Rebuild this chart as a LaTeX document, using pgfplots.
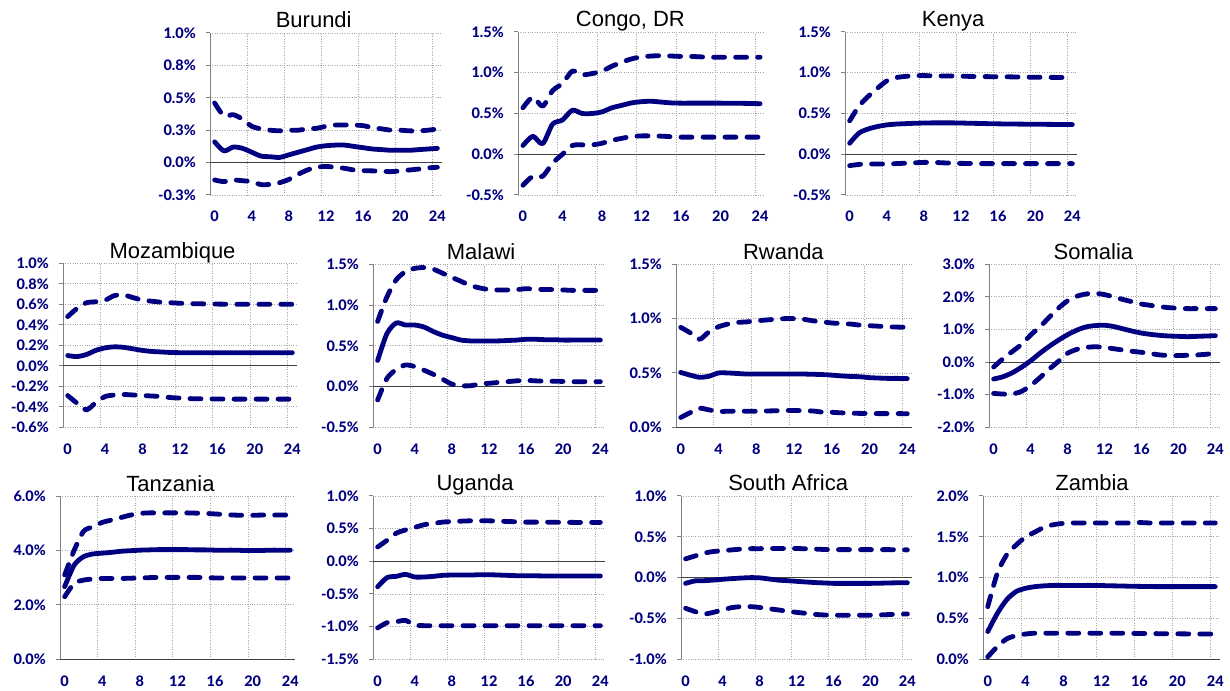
\documentclass[border=0pt]{standalone}
\usepackage{pgfplots}
\pgfplotsset{compat=1.18}
\usepackage{pgfplotstable}
\usepackage{fontspec}
\setmainfont{Liberation Sans}
\newfontfamily\titlefont{Liberation Sans}
\newfontfamily\tickfont{Lato}[BoldFont={Lato Heavy}]
\definecolor{navy}{RGB}{0,0,128}
\definecolor{axisgray}{RGB}{128,128,128}

% impulse responses: horizon, lower band, point estimate, upper band (percent)
\pgfplotstableread{
h lo mid hi
0 -0.134 0.16 0.46
1 -0.147 0.09 0.36
2 -0.134 0.12 0.37
3 -0.14 0.11 0.335
4 -0.147 0.08 0.28
5 -0.17 0.05 0.26
6 -0.168 0.045 0.25
7 -0.155 0.04 0.245
8 -0.13 0.06 0.25
9 -0.09 0.08 0.25
10 -0.057 0.10 0.26
11 -0.036 0.12 0.265
12 -0.03 0.13 0.28
13 -0.036 0.135 0.29
14 -0.044 0.135 0.29
15 -0.057 0.125 0.29
16 -0.062 0.115 0.285
17 -0.064 0.105 0.27
18 -0.067 0.10 0.26
19 -0.07 0.095 0.25
20 -0.064 0.095 0.25
21 -0.057 0.095 0.245
22 -0.05 0.10 0.245
23 -0.041 0.105 0.25
24 -0.036 0.11 0.26
}\burundi

\pgfplotstableread{
h lo mid hi
0 -0.38 0.107 0.57
1 -0.27 0.22 0.70
2 -0.27 0.13 0.59
3 -0.11 0.37 0.78
4 0.0 0.42 0.87
5 0.107 0.54 1.02
6 0.115 0.50 0.975
7 0.115 0.50 0.99
8 0.135 0.52 1.02
9 0.17 0.57 1.08
10 0.195 0.60 1.13
11 0.217 0.63 1.17
12 0.225 0.645 1.195
13 0.225 0.65 1.205
14 0.222 0.64 1.21
15 0.215 0.63 1.205
16 0.21 0.627 1.20
17 0.21 0.627 1.20
18 0.21 0.627 1.195
19 0.21 0.627 1.19
20 0.21 0.627 1.19
21 0.21 0.625 1.19
22 0.21 0.625 1.19
23 0.21 0.623 1.19
24 0.21 0.62 1.19
}\congo

\pgfplotstableread{
h lo mid hi
0 -0.14 0.135 0.41
1 -0.125 0.26 0.59
2 -0.12 0.31 0.71
3 -0.12 0.34 0.81
4 -0.12 0.36 0.90
5 -0.115 0.37 0.94
6 -0.11 0.375 0.955
7 -0.105 0.38 0.963
8 -0.10 0.383 0.965
9 -0.10 0.385 0.962
10 -0.105 0.385 0.96
11 -0.11 0.385 0.96
12 -0.112 0.383 0.958
13 -0.113 0.38 0.955
14 -0.115 0.378 0.953
15 -0.115 0.375 0.952
16 -0.115 0.373 0.95
17 -0.115 0.371 0.95
18 -0.115 0.37 0.948
19 -0.115 0.369 0.946
20 -0.115 0.368 0.945
21 -0.115 0.367 0.944
22 -0.115 0.366 0.943
23 -0.115 0.365 0.942
24 -0.115 0.364 0.94
}\kenya

\pgfplotstableread{
h lo mid hi
0 -0.29 0.10 0.48
1 -0.365 0.09 0.56
2 -0.43 0.11 0.615
3 -0.36 0.15 0.625
4 -0.30 0.175 0.64
5 -0.285 0.185 0.685
6 -0.28 0.18 0.69
7 -0.285 0.165 0.665
8 -0.29 0.15 0.64
9 -0.295 0.14 0.63
10 -0.30 0.135 0.62
11 -0.31 0.13 0.615
12 -0.315 0.128 0.61
13 -0.32 0.128 0.607
14 -0.322 0.128 0.605
15 -0.323 0.128 0.603
16 -0.324 0.128 0.602
17 -0.325 0.128 0.601
18 -0.325 0.128 0.60
19 -0.325 0.128 0.60
20 -0.325 0.128 0.60
21 -0.325 0.128 0.60
22 -0.325 0.128 0.60
23 -0.325 0.128 0.60
24 -0.325 0.128 0.60
}\mozambique

\pgfplotstableread{
h lo mid hi
0 -0.165 0.32 0.80
1 0.10 0.65 1.10
2 0.21 0.78 1.31
3 0.265 0.755 1.41
4 0.245 0.755 1.45
5 0.20 0.73 1.46
6 0.15 0.675 1.44
7 0.09 0.63 1.39
8 0.03 0.60 1.34
9 0.01 0.57 1.29
10 0.01 0.56 1.24
11 0.03 0.56 1.21
12 0.04 0.56 1.19
13 0.05 0.56 1.185
14 0.06 0.565 1.185
15 0.07 0.57 1.19
16 0.075 0.58 1.20
17 0.07 0.58 1.195
18 0.065 0.575 1.19
19 0.065 0.575 1.19
20 0.063 0.57 1.185
21 0.06 0.57 1.18
22 0.06 0.57 1.18
23 0.06 0.57 1.18
24 0.06 0.57 1.18
}\malawi

\pgfplotstableread{
h lo mid hi
0 0.09 0.505 0.92
1 0.135 0.48 0.87
2 0.175 0.46 0.81
3 0.16 0.47 0.88
4 0.145 0.50 0.925
5 0.148 0.50 0.95
6 0.148 0.495 0.965
7 0.148 0.49 0.97
8 0.148 0.49 0.98
9 0.15 0.49 0.987
10 0.152 0.49 0.994
11 0.155 0.49 1.0
12 0.155 0.49 1.0
13 0.153 0.49 0.994
14 0.15 0.488 0.98
15 0.14 0.485 0.97
16 0.138 0.48 0.96
17 0.133 0.473 0.955
18 0.13 0.468 0.95
19 0.128 0.465 0.94
20 0.127 0.457 0.935
21 0.126 0.453 0.93
22 0.126 0.45 0.925
23 0.126 0.45 0.922
24 0.125 0.448 0.92
}\rwanda

\pgfplotstableread{
h lo mid hi
0 -0.96 -0.52 -0.15
1 -0.98 -0.45 0.10
2 -0.98 -0.33 0.32
3 -0.90 -0.16 0.54
4 -0.72 0.04 0.83
5 -0.48 0.27 1.08
6 -0.22 0.48 1.37
7 0.02 0.67 1.65
8 0.27 0.84 1.88
9 0.39 0.98 2.02
10 0.45 1.08 2.09
11 0.47 1.12 2.11
12 0.45 1.13 2.07
13 0.41 1.09 2.00
14 0.37 1.02 1.92
15 0.33 0.95 1.85
16 0.30 0.89 1.78
17 0.26 0.85 1.74
18 0.22 0.82 1.70
19 0.20 0.80 1.67
20 0.20 0.79 1.65
21 0.21 0.78 1.64
22 0.22 0.79 1.64
23 0.24 0.80 1.64
24 0.27 0.81 1.64
}\somalia

\pgfplotstableread{
h lo mid hi
0 2.30 2.67 3.10
1 2.79 3.46 4.00
2 2.91 3.77 4.70
3 2.95 3.87 4.87
4 2.97 3.90 5.03
5 2.97 3.93 5.12
6 2.97 3.97 5.21
7 2.98 3.99 5.30
8 2.99 4.01 5.36
9 3.00 4.02 5.38
10 3.01 4.03 5.38
11 3.01 4.03 5.38
12 3.01 4.03 5.38
13 3.01 4.03 5.38
14 3.01 4.02 5.37
15 3.00 4.02 5.36
16 2.99 4.01 5.34
17 2.99 4.01 5.32
18 2.99 4.01 5.30
19 2.99 4.00 5.29
20 2.99 4.00 5.29
21 2.99 4.00 5.30
22 2.99 4.01 5.30
23 2.99 4.01 5.30
24 2.99 4.01 5.30
}\tanzania

\pgfplotstableread{
h lo mid hi
0 -1.02 -0.39 0.22
1 -0.94 -0.25 0.32
2 -0.925 -0.23 0.43
3 -0.905 -0.20 0.48
4 -0.975 -0.24 0.52
5 -0.985 -0.24 0.56
6 -0.985 -0.23 0.58
7 -0.985 -0.215 0.60
8 -0.985 -0.21 0.61
9 -0.985 -0.21 0.615
10 -0.985 -0.21 0.62
11 -0.985 -0.205 0.62
12 -0.985 -0.205 0.62
13 -0.985 -0.21 0.615
14 -0.985 -0.215 0.61
15 -0.985 -0.22 0.605
16 -0.985 -0.22 0.60
17 -0.985 -0.222 0.60
18 -0.985 -0.224 0.60
19 -0.985 -0.225 0.598
20 -0.985 -0.226 0.597
21 -0.985 -0.226 0.596
22 -0.985 -0.226 0.595
23 -0.985 -0.226 0.595
24 -0.985 -0.225 0.595
}\uganda

\pgfplotstableread{
h lo mid hi
0 -0.375 -0.07 0.23
1 -0.415 -0.04 0.265
2 -0.445 -0.037 0.30
3 -0.425 -0.03 0.32
4 -0.395 -0.02 0.33
5 -0.367 -0.012 0.34
6 -0.355 -0.005 0.35
7 -0.355 0.0 0.355
8 -0.365 -0.002 0.355
9 -0.38 -0.016 0.357
10 -0.395 -0.03 0.357
11 -0.41 -0.037 0.357
12 -0.425 -0.045 0.357
13 -0.437 -0.053 0.353
14 -0.45 -0.06 0.35
15 -0.457 -0.065 0.345
16 -0.46 -0.07 0.343
17 -0.46 -0.07 0.343
18 -0.46 -0.07 0.343
19 -0.46 -0.07 0.343
20 -0.46 -0.07 0.343
21 -0.457 -0.068 0.343
22 -0.452 -0.065 0.343
23 -0.448 -0.063 0.342
24 -0.445 -0.062 0.34
}\southafrica

\pgfplotstableread{
h lo mid hi
0 0.03 0.34 0.645
1 0.155 0.56 1.05
2 0.25 0.73 1.28
3 0.29 0.83 1.40
4 0.31 0.87 1.50
5 0.32 0.89 1.56
6 0.32 0.90 1.62
7 0.32 0.905 1.65
8 0.32 0.905 1.665
9 0.32 0.905 1.67
10 0.32 0.905 1.67
11 0.32 0.905 1.67
12 0.32 0.903 1.67
13 0.32 0.90 1.67
14 0.32 0.898 1.67
15 0.318 0.895 1.67
16 0.316 0.893 1.675
17 0.315 0.891 1.67
18 0.314 0.89 1.67
19 0.313 0.89 1.67
20 0.312 0.89 1.67
21 0.311 0.89 1.67
22 0.31 0.89 1.67
23 0.31 0.89 1.67
24 0.31 0.89 1.67
}\zambia

\pgfplotsset{
  irf/.style={
    scale only axis, anchor=south west, clip=false, no markers,
    xmin=-0.5, xmax=24.5,
    xtick={0,4,...,24}, xticklabels={0,4,8,12,16,20,24},
    minor xtick={3.5,7.5,11.5,15.5,19.5,23.5},
    xminorgrids=true, ymajorgrids=true,
    minor tick length=0pt,
    axis lines=left, axis line style={-},
    x axis line style={draw=none},
    y axis line style={draw=axisgray, line width=1pt},
    major x tick style={draw=none},
    major y tick style={draw=axisgray, line width=1pt},
    tick align=outside, major tick length=4pt,
    grid style={dotted, black!35, line width=0.8pt},
    extra y ticks={0}, extra y tick labels={},
    extra y tick style={ymajorgrids=true, major grid style={solid, black!75, line width=1pt}},
    ticklabel style={font=\tickfont\bfseries\fontsize{14.5}{16}\selectfont, text=navy},
    yticklabel style={anchor=east, inner sep=0pt, xshift=-10pt},
    xticklabel style={anchor=base, inner sep=0pt, yshift=-23pt},
    title style={font=\titlefont\fontsize{22}{26}\selectfont, anchor=base, inner sep=0pt, yshift=-1pt},
  },
  mid/.style={navy, line width=4.8pt, smooth, tension=0.45, line cap=round, line join=round},
  band/.style={navy, line width=4.8pt, smooth, tension=0.45, line cap=round, line join=round, dash pattern=on 11pt off 11pt},
}

\begin{document}
\begin{tikzpicture}[x=1pt,y=1pt]
\path[use as bounding box] (0,0) rectangle (1230,690);

% ---- top row ----
\begin{axis}[irf, at={(210pt,495pt)}, width=232pt, height=162pt,
  title={Burundi}, title style={at={(0.447,1)}},
  ymin=-0.25, ymax=1, ytick={-0.25,0,0.25,0.5,0.75,1},
  yticklabels={-0.3\%,0.0\%,0.3\%,0.5\%,0.8\%,1.0\%}]
\addplot[band] table[x=h,y=lo]{\burundi};
\addplot[mid]  table[x=h,y=mid]{\burundi};
\addplot[band] table[x=h,y=hi]{\burundi};
\end{axis}

\begin{axis}[irf, at={(518pt,495pt)}, width=247pt, height=163pt,
  title={Congo, DR}, title style={at={(0.455,1)}},
  ymin=-0.5, ymax=1.5, ytick={-0.5,0,0.5,1,1.5},
  yticklabels={-0.5\%,0.0\%,0.5\%,1.0\%,1.5\%}]
\addplot[band] table[x=h,y=lo]{\congo};
\addplot[mid]  table[x=h,y=mid]{\congo};
\addplot[band] table[x=h,y=hi]{\congo};
\end{axis}

\begin{axis}[irf, at={(845pt,495pt)}, width=232pt, height=163pt,
  title={Kenya}, title style={at={(0.466,1)}},
  ymin=-0.5, ymax=1.5, ytick={-0.5,0,0.5,1,1.5},
  yticklabels={-0.5\%,0.0\%,0.5\%,1.0\%,1.5\%}]
\addplot[band] table[x=h,y=lo]{\kenya};
\addplot[mid]  table[x=h,y=mid]{\kenya};
\addplot[band] table[x=h,y=hi]{\kenya};
\end{axis}

% ---- middle row ----
\begin{axis}[irf, at={(63pt,262.7pt)}, width=234pt, height=164pt,
  title={Mozambique}, title style={at={(0.468,1)}},
  ymin=-0.6, ymax=1, ytick={-0.6,-0.4,-0.2,0,0.2,0.4,0.6,0.8,1},
  yticklabels={-0.6\%,-0.4\%,-0.2\%,0.0\%,0.2\%,0.4\%,0.6\%,0.8\%,1.0\%}]
\addplot[band] table[x=h,y=lo]{\mozambique};
\addplot[mid]  table[x=h,y=mid]{\mozambique};
\addplot[band] table[x=h,y=hi]{\mozambique};
\end{axis}

\begin{axis}[irf, at={(373pt,262.7pt)}, width=232pt, height=163pt,
  title={Malawi}, title style={at={(0.466,1)}},
  ymin=-0.5, ymax=1.5, ytick={-0.5,0,0.5,1,1.5},
  yticklabels={-0.5\%,0.0\%,0.5\%,1.0\%,1.5\%}]
\addplot[band] table[x=h,y=lo]{\malawi};
\addplot[mid]  table[x=h,y=mid]{\malawi};
\addplot[band] table[x=h,y=hi]{\malawi};
\end{axis}

\begin{axis}[irf, at={(676pt,262.7pt)}, width=236pt, height=163pt,
  title={Rwanda}, title style={at={(0.455,1)}},
  ymin=0, ymax=1.5, ytick={0,0.5,1,1.5},
  yticklabels={0.0\%,0.5\%,1.0\%,1.5\%}]
\addplot[band] table[x=h,y=lo]{\rwanda};
\addplot[mid]  table[x=h,y=mid]{\rwanda};
\addplot[band] table[x=h,y=hi]{\rwanda};
\end{axis}

\begin{axis}[irf, at={(989pt,262.7pt)}, width=231pt, height=163pt,
  title={Somalia}, title style={at={(0.452,1)}},
  ymin=-2, ymax=3, ytick={-2,-1,0,1,2,3},
  yticklabels={-2.0\%,-1.0\%,0.0\%,1.0\%,2.0\%,3.0\%}]
\addplot[band] table[x=h,y=lo]{\somalia};
\addplot[mid]  table[x=h,y=mid]{\somalia};
\addplot[band] table[x=h,y=hi]{\somalia};
\end{axis}

% ---- bottom row ----
\begin{axis}[irf, at={(60pt,30.7pt)}, width=235pt, height=163.3pt,
  title={Tanzania}, title style={at={(0.47,1)}},
  ymin=0, ymax=6, ytick={0,2,4,6},
  yticklabels={0.0\%,2.0\%,4.0\%,6.0\%}]
\addplot[band] table[x=h,y=lo]{\tanzania};
\addplot[mid]  table[x=h,y=mid]{\tanzania};
\addplot[band] table[x=h,y=hi]{\tanzania};
\end{axis}

\begin{axis}[irf, at={(373pt,30.7pt)}, width=232pt, height=163.3pt,
  title={Uganda}, title style={at={(0.44,1)}},
  ymin=-1.5, ymax=1, ytick={-1.5,-1,-0.5,0,0.5,1},
  yticklabels={-1.5\%,-1.0\%,-0.5\%,0.0\%,0.5\%,1.0\%}]
\addplot[band] table[x=h,y=lo]{\uganda};
\addplot[mid]  table[x=h,y=mid]{\uganda};
\addplot[band] table[x=h,y=hi]{\uganda};
\end{axis}

\begin{axis}[irf, at={(681pt,30.7pt)}, width=231pt, height=163.3pt,
  title={South Africa}, title style={at={(0.464,1)}},
  ymin=-1, ymax=1, ytick={-1,-0.5,0,0.5,1},
  yticklabels={-1.0\%,-0.5\%,0.0\%,0.5\%,1.0\%}]
\addplot[band] table[x=h,y=lo]{\southafrica};
\addplot[mid]  table[x=h,y=mid]{\southafrica};
\addplot[band] table[x=h,y=hi]{\southafrica};
\end{axis}

\begin{axis}[irf, at={(983pt,30.7pt)}, width=237pt, height=163.3pt,
  title={Zambia}, title style={at={(0.46,1)}},
  ymin=0, ymax=2, ytick={0,0.5,1,1.5,2},
  yticklabels={0.0\%,0.5\%,1.0\%,1.5\%,2.0\%}]
\addplot[band] table[x=h,y=lo]{\zambia};
\addplot[mid]  table[x=h,y=mid]{\zambia};
\addplot[band] table[x=h,y=hi]{\zambia};
\end{axis}
\end{tikzpicture}
\end{document}
